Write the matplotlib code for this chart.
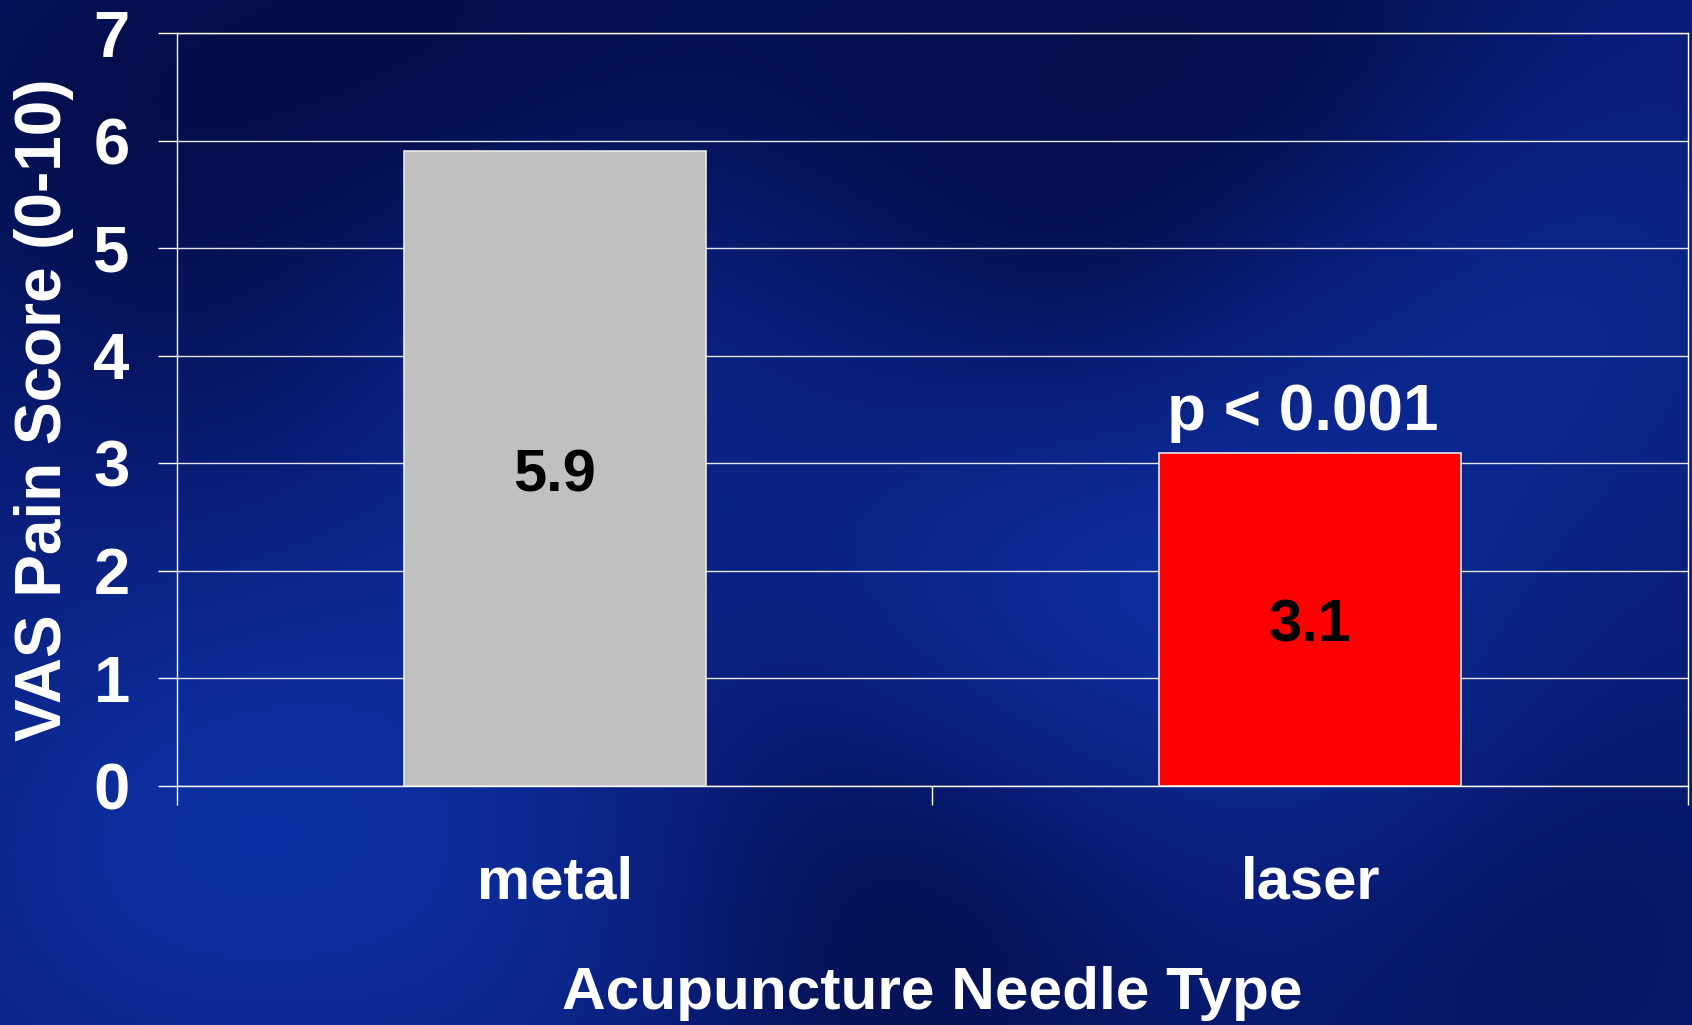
import numpy as np
import matplotlib.pyplot as plt
from matplotlib.colors import LinearSegmentedColormap

categories = ["metal", "laser"]
scores = [5.9, 3.1]
bar_colors = ["#C0C0C0", "#FF0000"]
y_ticks = [0, 1, 2, 3, 4, 5, 6, 7]
p_text = "p < 0.001"

plt.rcParams['font.family'] = ['Liberation Sans', 'DejaVu Sans']
plt.rcParams['font.weight'] = 'bold'

fig = plt.figure(figsize=(16.92, 10.25), dpi=100)

# mottled blue background (blobs placed by eye from the slide)
bg = fig.add_axes([0, 0, 1, 1], zorder=-10)
bg.axis("off")
W, H = 340, 205
xx, yy = np.meshgrid(np.linspace(0, 1692, W), np.linspace(0, 1025, H))
field = np.full_like(xx, 0.45)
blobs = [  # x, y, radius, strength
    (330, 720, 240, 0.35), (620, 330, 200, 0.30), (1150, 470, 210, 0.35),
    (1330, 720, 190, 0.30), (1560, 300, 170, 0.25), (120, 900, 180, 0.25),
    (1000, 620, 150, 0.20), (520, 960, 170, 0.20),
    (420, 40, 220, -0.40), (900, 140, 240, -0.35), (900, 920, 210, -0.35),
    (60, 120, 170, -0.25), (1500, 900, 190, -0.25), (1280, 40, 190, -0.30),
    (230, 430, 150, -0.18), (1100, 330, 130, -0.20),
]
for bx, by, r, s in blobs:
    field += s * np.exp(-((xx - bx) ** 2 + (yy - by) ** 2) / (2 * r ** 2))
field = np.clip(field, 0, 1)
cmap = LinearSegmentedColormap.from_list("slide", ["#030C45", "#0A1F7C", "#0D31A4"])
bg.imshow(field, cmap=cmap, vmin=0, vmax=1, aspect="auto", extent=[0, 1, 0, 1],
          interpolation="bicubic")
bg.set_xlim(0, 1)
bg.set_ylim(0, 1)

ax = fig.add_axes([0.1046, 0.2332, 0.893, 0.7346])
ax.patch.set_alpha(0)

x = np.arange(len(categories))
ax.bar(x, scores, width=0.4, color=bar_colors, edgecolor="#E8E8E8", linewidth=1.2, zorder=3)

for xi, v in zip(x, scores):
    ax.annotate(f"{v}", (xi, v / 2), xytext=(0, -5), textcoords="offset points",
                ha="center", va="center", fontsize=43, fontweight="bold",
                color="black", zorder=4)

ax.annotate(p_text, (0.99, 3.52), xytext=(0, -4), textcoords="offset points",
            ha="center", va="center", fontsize=46, fontweight="bold",
            color="white", zorder=4)

ax.set_xlim(-0.5, 1.5)
ax.set_ylim(0, 7)
ax.set_yticks(y_ticks)
ax.set_yticklabels([str(t) for t in y_ticks])
ax.yaxis.grid(True, color="#E6E6E6", linewidth=1.0, zorder=0)
ax.set_axisbelow(True)

ax.set_xticks(x)
ax.set_xticklabels(categories)
ax.set_xticks([-0.5, 0.5, 1.5], minor=True)
ax.tick_params(axis="x", which="major", length=0, pad=50, labelsize=43, colors="white")
ax.tick_params(axis="x", which="minor", length=14, width=1.0, color="white", direction="out")
ax.tick_params(axis="y", length=14, width=1.0, color="white", direction="out",
               pad=20, labelsize=47, labelcolor="white")
for lab in ax.get_xticklabels() + ax.get_yticklabels():
    lab.set_fontweight("bold")

for side in ["left", "right", "bottom", "top"]:
    ax.spines[side].set_color("white")
    ax.spines[side].set_linewidth(1.0)

ax.set_ylabel("VAS Pain Score (0-10)", fontsize=46, fontweight="bold", color="white")
ax.yaxis.set_label_coords(-0.088, 0.5)
ax.yaxis.label.set_va("center")
ax.set_xlabel("Acupuncture Needle Type", fontsize=43.5, fontweight="bold", color="white")
ax.xaxis.set_label_coords(0.5, -0.275)
ax.xaxis.label.set_va("center")

fig.savefig("out.png", dpi=100)
